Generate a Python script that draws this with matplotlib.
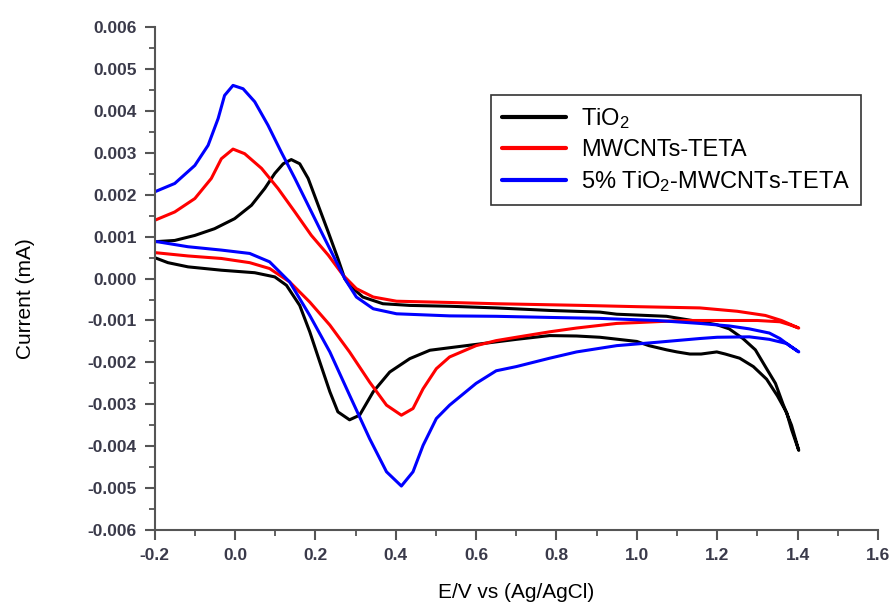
import matplotlib
matplotlib.use("Agg")
import matplotlib.pyplot as plt
from matplotlib.ticker import MultipleLocator, FormatStrFormatter

plt.rcParams['font.family'] = ['Liberation Sans', 'DejaVu Sans']
plt.rcParams['mathtext.fontset'] = 'custom'
plt.rcParams['mathtext.rm'] = 'Liberation Sans'
plt.rcParams['mathtext.it'] = 'Liberation Sans:italic'

# TiO2 : forward sweep then return sweep (E in V, I in mA)
tio2_E = [-0.2, -0.15, -0.1, -0.051, -0.001, 0.041, 0.074, 0.099, 0.12, 0.14, 0.161, 0.182, 0.207, 0.232,
          0.256, 0.273, 0.285, 0.318, 0.368, 0.435, 0.534, 0.65, 0.783, 0.908, 0.95, 1.074, 1.157, 1.199,
          1.23, 1.264, 1.295, 1.323, 1.345, 1.364, 1.385, 1.403,
          1.385, 1.373, 1.35, 1.323, 1.29, 1.256, 1.22, 1.199, 1.16, 1.132, 1.1, 1.074, 1.03, 1.0, 0.908,
          0.85, 0.783, 0.7, 0.617, 0.534, 0.485, 0.435, 0.385, 0.344, 0.31, 0.285, 0.256, 0.236, 0.211,
          0.186, 0.161, 0.128, 0.099, 0.049, -0.034, -0.117, -0.167, -0.2]
tio2_I = [0.00088, 0.00091, 0.00103, 0.00119, 0.00143, 0.00175, 0.00215, 0.00251, 0.00274, 0.00284, 0.00274, 0.00239, 0.00175, 0.00111,
          0.00048, 0.0, -0.00016, -0.00044, -0.0006, -0.00064, -0.00066, -0.0007, -0.00076, -0.0008, -0.00085, -0.0009, -0.00103, -0.0011,
          -0.0012, -0.00143, -0.0017, -0.00215, -0.0025, -0.003, -0.0035, -0.0041,
          -0.0036, -0.0032, -0.0028, -0.0024, -0.0021, -0.0019, -0.0018, -0.00175, -0.0018, -0.0018, -0.00175, -0.0017, -0.0016, -0.0015, -0.0014,
          -0.00137, -0.00136, -0.00145, -0.00155, -0.00165, -0.00171, -0.00191, -0.00223, -0.0027, -0.00326, -0.00337, -0.00318, -0.0027, -0.00199,
          -0.00127, -0.00064, -0.00016, 0.00004, 0.00014, 0.0002, 0.00028, 0.00038, 0.0005]

mw_E = [-0.2, -0.15, -0.1, -0.059, -0.034, -0.005, 0.024, 0.066, 0.107, 0.149, 0.19, 0.232, 0.269, 0.302,
        0.344, 0.402, 0.534, 0.65, 0.865, 1.0, 1.157, 1.25, 1.32, 1.36, 1.403,
        1.38, 1.356, 1.3, 1.2, 1.114, 1.0, 0.95, 0.85, 0.783, 0.7, 0.65, 0.6, 0.534, 0.501, 0.468, 0.443,
        0.414, 0.377, 0.335, 0.285, 0.236, 0.186, 0.136, 0.086, 0.0365, -0.034, -0.117, -0.2]
mw_I = [0.00139, 0.00159, 0.00191, 0.00239, 0.00286, 0.00309, 0.00298, 0.00263, 0.00215, 0.00159, 0.00103, 0.00056, 0.00008, -0.00024,
        -0.00044, -0.00054, -0.00057, -0.0006, -0.00064, -0.00067, -0.0007, -0.00078, -0.00088, -0.001, -0.00118,
        -0.0011, -0.00103, -0.001, -0.001, -0.001, -0.00105, -0.00107, -0.00118, -0.00127, -0.0014, -0.00148, -0.0016, -0.00187, -0.00215, -0.00263, -0.0031,
        -0.00326, -0.00302, -0.00247, -0.00175, -0.00111, -0.00056, -0.00008, 0.00024, 0.00038, 0.00048, 0.00054, 0.00062]

comp_E = [-0.2, -0.15, -0.1, -0.067, -0.042, -0.026, -0.005, 0.02, 0.049, 0.082, 0.115, 0.149, 0.182, 0.215,
          0.248, 0.273, 0.302, 0.344, 0.402, 0.534, 0.65, 0.8, 0.908, 1.05, 1.157, 1.23, 1.28, 1.33, 1.356, 1.38, 1.403,
          1.373, 1.33, 1.28, 1.2, 1.157, 1.05, 0.95, 0.85, 0.783, 0.7, 0.65, 0.6, 0.534, 0.501, 0.468, 0.443,
          0.414, 0.377, 0.335, 0.285, 0.236, 0.186, 0.136, 0.086, 0.0365, -0.034, -0.117, -0.2]
comp_I = [0.00207, 0.00227, 0.0027, 0.00318, 0.00382, 0.00437, 0.00461, 0.00453, 0.00422, 0.00366, 0.00302, 0.00239, 0.00175, 0.00111,
          0.00048, 0.0, -0.00044, -0.00072, -0.00084, -0.00089, -0.0009, -0.00093, -0.00095, -0.001, -0.00107, -0.00113, -0.0012, -0.0013, -0.00143, -0.0016, -0.00175,
          -0.00155, -0.00145, -0.00139, -0.0014, -0.00143, -0.00152, -0.0016, -0.00175, -0.0019, -0.0021, -0.0022, -0.0025, -0.00302, -0.00334, -0.00398, -0.00461,
          -0.00495, -0.00461, -0.00382, -0.00278, -0.00175, -0.00088, -0.00008, 0.0004, 0.0006, 0.00068, 0.00076, 0.00089]

fig = plt.figure(figsize=(8.94, 6.03), dpi=100)
ax = fig.add_axes([0.173, 0.121, 0.809, 0.834])

kw = dict(lw=2.2, solid_joinstyle='round', solid_capstyle='round')
ax.plot(tio2_E, tio2_I, color='black', label='TiO$_2$', **kw)
ax.plot(mw_E, mw_I, color='red', label='MWCNTs-TETA', **kw)
ax.plot(comp_E, comp_I, color='blue', label='5% TiO$_2$-MWCNTs-TETA', **kw)

ax.set_xlim(-0.2, 1.6)
ax.set_ylim(-0.006, 0.006)
ax.xaxis.set_major_locator(MultipleLocator(0.2))
ax.xaxis.set_minor_locator(MultipleLocator(0.1))
ax.yaxis.set_major_locator(MultipleLocator(0.001))
ax.yaxis.set_minor_locator(MultipleLocator(0.0005))
ax.xaxis.set_major_formatter(FormatStrFormatter('%.1f'))
ax.yaxis.set_major_formatter(FormatStrFormatter('%.3f'))

for s in ['top', 'right']:
    ax.spines[s].set_visible(False)
for s in ['left', 'bottom']:
    ax.spines[s].set_color('#555555')
    ax.spines[s].set_linewidth(1.5)

ax.tick_params(which='major', direction='out', length=7, width=1.5, color='#555555',
               labelsize=12.5, labelcolor='#3a3a4a', pad=6)
ax.tick_params(which='minor', direction='out', length=4, width=1.3, color='#555555')
for lab in ax.get_xticklabels() + ax.get_yticklabels():
    lab.set_fontweight('bold')

ax.set_xlabel('E/V vs (Ag/AgCl)', fontsize=15, labelpad=14)
ax.set_ylabel('Current (mA)', fontsize=15)
ax.yaxis.set_label_coords(-0.165, 0.46)

leg = ax.legend(loc='upper right', bbox_to_anchor=(0.963, 0.842), bbox_transform=fig.transFigure,
                borderaxespad=0, fontsize=17, frameon=True, fancybox=False, handlelength=2.7,
                labelspacing=0.35, borderpad=0.45, handletextpad=0.65)
leg.get_frame().set_edgecolor('black')
leg.get_frame().set_linewidth(1.2)
for l in leg.get_lines():
    l.set_linewidth(3)

fig.savefig('out.png', dpi=100)
